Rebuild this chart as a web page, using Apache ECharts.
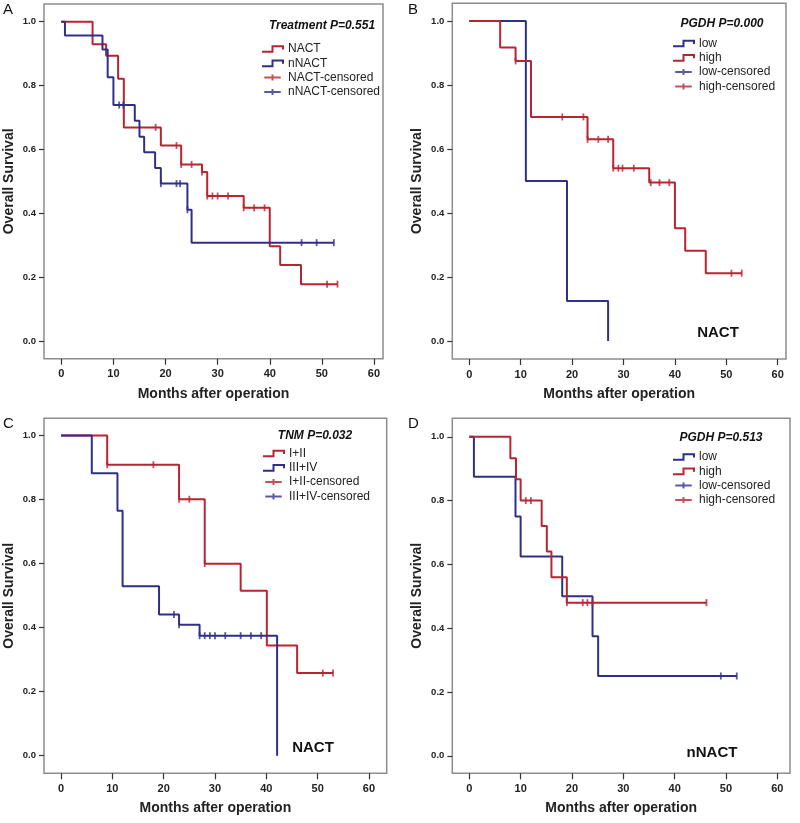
<!DOCTYPE html>
<html><head><meta charset="utf-8">
<script src="https://cdn.jsdelivr.net/npm/echarts@6/dist/echarts.min.js"></script>
<style>html,body{margin:0;padding:0;background:#fff}#c{width:800px;height:823px}</style>
</head><body><div id="c"></div>
<script>
// ---- tick labels ----
const xTicks = [0, 10, 20, 30, 40, 50, 60];
const yTicks = [0, 0.2, 0.4, 0.6, 0.8, 1.0];

// ---- Panel A: Treatment ----
const aNactT  = [0, 6, 8.6, 10.9, 12, 19.1, 23, 27, 28, 35, 40, 42, 46, 53];
const aNactS  = [1, 0.929, 0.893, 0.821, 0.669, 0.612, 0.553, 0.529, 0.454, 0.417, 0.297, 0.238, 0.178, 0.178];
const aNactCens = [18.1, 22.1, 23, 25, 27, 28, 29, 30, 32, 35, 37, 39, 51, 53];
const aNnactT = [0, 0.7, 7.9, 8.9, 10, 14.1, 15, 15.9, 18, 19.1, 24.2, 25, 52.3];
const aNnactS = [1, 0.957, 0.913, 0.826, 0.739, 0.690, 0.640, 0.591, 0.542, 0.493, 0.411, 0.308, 0.308];
const aNnactCens = [11.1, 11.9, 19.1, 22.1, 22.8, 24.2, 46.1, 49, 52.3];

// ---- Panel B: PGDH in NACT ----
const bLowT  = [0, 11, 19, 27];
const bLowS  = [1, 0.5, 0.125, 0];
const bLowCens = [];
const bHighT = [0, 6, 9, 12, 23, 28, 35, 40, 42, 46, 53];
const bHighS = [1, 0.917, 0.875, 0.700, 0.630, 0.540, 0.495, 0.352, 0.282, 0.212, 0.212];
const bHighCens = [9, 18.1, 22.2, 23, 25.1, 27, 28, 29, 29.8, 32, 35.3, 37, 38.9, 51, 53];

// ---- Panel C: TNM in NACT ----
const cEarlyT = [0, 9, 23, 28, 35, 40.1, 46, 53];
const cEarlyS = [1, 0.909, 0.801, 0.600, 0.515, 0.344, 0.258, 0.258];
const cEarlyCens = [9, 18, 23, 25, 28, 51, 53];
const cLateT = [0, 6, 11, 12, 19.1, 23, 27, 42.1];
const cLateS = [1, 0.882, 0.765, 0.529, 0.441, 0.409, 0.375, 0];
const cLateCens = [22, 23, 27, 28, 29, 30, 32, 35, 37, 39];

// ---- Panel D: PGDH in nNACT ----
const dLowT  = [0, 0.9, 9, 10, 18.1, 24, 25.1, 52.1];
const dLowS  = [1, 0.875, 0.75, 0.625, 0.5, 0.375, 0.25, 0.25];
const dLowCens = [49, 52.1];
const dHighT = [0, 8, 9.1, 10, 14.1, 15.1, 16, 19, 46.2];
const dHighS = [1, 0.933, 0.867, 0.8, 0.72, 0.64, 0.56, 0.48, 0.48];
const dHighCens = [11, 12, 19, 22.1, 23, 24, 46.2];

// ---- styling / layout ----
const RED = '#b82430', BLUE = '#2e3088';
const FONT = '"Liberation Sans", Arial, sans-serif';
const stepIcon = 'path://M0,6 L11,6 L11,0 L22,0 L22,3.5';
const censIcon = 'path://M0,4 L22,4 M11,0 L11,8';

function pairs(T, S) { return T.map((t, i) => [t, S[i]]); }
function survAt(T, S, t) { let v = S[0]; for (let i = 0; i < T.length; i++) { if (T[i] <= t + 1e-9) v = S[i]; } return v; }
function censPts(T, S, C) { return C.map(t => [t, survAt(T, S, t)]); }

const panels = [
  { grid: {left: 44, top: 4, width: 339, height: 354.7}, x: [-3.32, 61.73], y: [-0.0554, 1.0554],
    curves: [
      {name: 'NACT', T: aNactT, S: aNactS, C: aNactCens, color: RED},
      {name: 'nNACT', T: aNnactT, S: aNnactS, C: aNnactCens, color: BLUE}],
    legend: {left: 261, top: 43}, title: {text: 'Treatment P=0.551', x: 322, y: 26},
    letter: {text: 'A', x: 3, y: 10}, note: null },
  { grid: {left: 452.3, top: 3.3, width: 333.7, height: 355.7}, x: [-3.31, 61.61], y: [-0.056, 1.055],
    curves: [
      {name: 'low', T: bLowT, S: bLowS, C: bLowCens, color: BLUE},
      {name: 'high', T: bHighT, S: bHighS, C: bHighCens, color: RED}],
    legend: {left: 672, top: 37.5}, title: {text: 'PGDH P=0.000', x: 722, y: 24},
    letter: {text: 'B', x: 408, y: 10}, note: {text: 'NACT', x: 718, y: 333} },
  { grid: {left: 44, top: 418.3, width: 342.7, height: 355}, x: [-3.31, 63.45], y: [-0.055, 1.054],
    curves: [
      {name: 'I+II', T: cEarlyT, S: cEarlyS, C: cEarlyCens, color: RED},
      {name: 'III+IV', T: cLateT, S: cLateS, C: cLateCens, color: BLUE}],
    legend: {left: 262, top: 447.5}, title: {text: 'TNM P=0.032', x: 315, y: 436},
    letter: {text: 'C', x: 3, y: 424}, note: {text: 'NACT', x: 313, y: 748} },
  { grid: {left: 452.3, top: 418.3, width: 337.7, height: 355}, x: [-3.31, 62.47], y: [-0.055, 1.058],
    curves: [
      {name: 'low', T: dLowT, S: dLowS, C: dLowCens, color: BLUE},
      {name: 'high', T: dHighT, S: dHighS, C: dHighCens, color: RED}],
    legend: {left: 672, top: 451}, title: {text: 'PGDH P=0.513', x: 721, y: 438},
    letter: {text: 'D', x: 408, y: 424}, note: {text: 'nNACT', x: 712, y: 753} }
];

const option = {
  animation: false,
  backgroundColor: '#ffffff',
  textStyle: {fontFamily: FONT},
  grid: [], xAxis: [], yAxis: [], series: [], legend: [], graphic: []
};

panels.forEach((p, i) => {
  option.grid.push(Object.assign({show: true, borderColor: '#8c8c8c', borderWidth: 1.5,
    backgroundColor: 'transparent', containLabel: false, outerBoundsMode: 'none'}, p.grid));
  option.xAxis.push({
    gridIndex: i, type: 'value', min: p.x[0], max: p.x[1], position: 'bottom',
    axisLine: {show: false, onZero: false}, splitLine: {show: false},
    axisTick: {show: true, customValues: xTicks, length: 6, lineStyle: {color: '#333', width: 1.2}},
    axisLabel: {customValues: xTicks, fontSize: 11, fontWeight: 'bold', color: '#222', margin: 10, fontFamily: FONT},
    name: 'Months after operation', nameLocation: 'middle', nameGap: 28,
    nameTextStyle: {fontSize: 14, fontWeight: 'bold', color: '#222', fontFamily: FONT}
  });
  option.yAxis.push({
    gridIndex: i, type: 'value', min: p.y[0], max: p.y[1], position: 'left',
    axisLine: {show: false, onZero: false}, splitLine: {show: false},
    axisTick: {show: true, customValues: yTicks, length: 5, lineStyle: {color: '#333', width: 1.2}},
    axisLabel: {customValues: yTicks, fontSize: 9.5, fontWeight: 'bold', color: '#222', margin: 8, fontFamily: FONT,
      formatter: v => v.toFixed(1)},
    name: 'Overall Survival', nameLocation: 'middle', nameGap: 28,
    nameTextStyle: {fontSize: 14, fontWeight: 'bold', color: '#222', fontFamily: FONT}
  });
  const legendData = [];
  p.curves.forEach(c => {
    option.series.push({
      type: 'line', name: c.name, xAxisIndex: i, yAxisIndex: i, step: 'end',
      data: pairs(c.T, c.S), symbol: 'none', lineStyle: {color: c.color, width: 2},
      itemStyle: {color: c.color}, z: 3
    });
    legendData.push({name: c.name, icon: stepIcon,
      itemStyle: {color: 'transparent', borderColor: c.color, borderWidth: 2}});
  });
  p.curves.forEach(c => {
    option.series.push({
      type: 'scatter', name: c.name + '-censored', xAxisIndex: i, yAxisIndex: i,
      data: censPts(c.T, c.S, c.C), symbol: 'rect', symbolSize: [1.8, 7],
      itemStyle: {color: c.color}, z: 4
    });
    legendData.push({name: c.name + '-censored', icon: censIcon,
      itemStyle: {color: 'transparent', borderColor: c.color, borderWidth: 2}});
  });
  option.legend.push({
    data: legendData, orient: 'vertical', left: p.legend.left, top: p.legend.top,
    itemWidth: 21, itemHeight: 6, itemGap: 2.3, selectedMode: false, padding: 0,
    textStyle: {fontSize: 12, color: '#222', fontFamily: FONT}
  });
  option.graphic.push({type: 'text', x: p.title.x, y: p.title.y, z: 10,
    style: {text: p.title.text, font: 'italic bold 12px ' + FONT, fill: '#111', align: 'center', verticalAlign: 'middle'}});
  option.graphic.push({type: 'text', x: p.letter.x, y: p.letter.y, z: 10,
    style: {text: p.letter.text, font: '15px ' + FONT, fill: '#111', align: 'left', verticalAlign: 'middle'}});
  if (p.note) option.graphic.push({type: 'text', x: p.note.x, y: p.note.y, z: 10,
    style: {text: p.note.text, font: 'bold 15px ' + FONT, fill: '#111', align: 'center', verticalAlign: 'middle'}});
});

const chart = echarts.init(document.getElementById('c'), null, {renderer: 'canvas'});
chart.setOption(option);
</script>
</body></html>
